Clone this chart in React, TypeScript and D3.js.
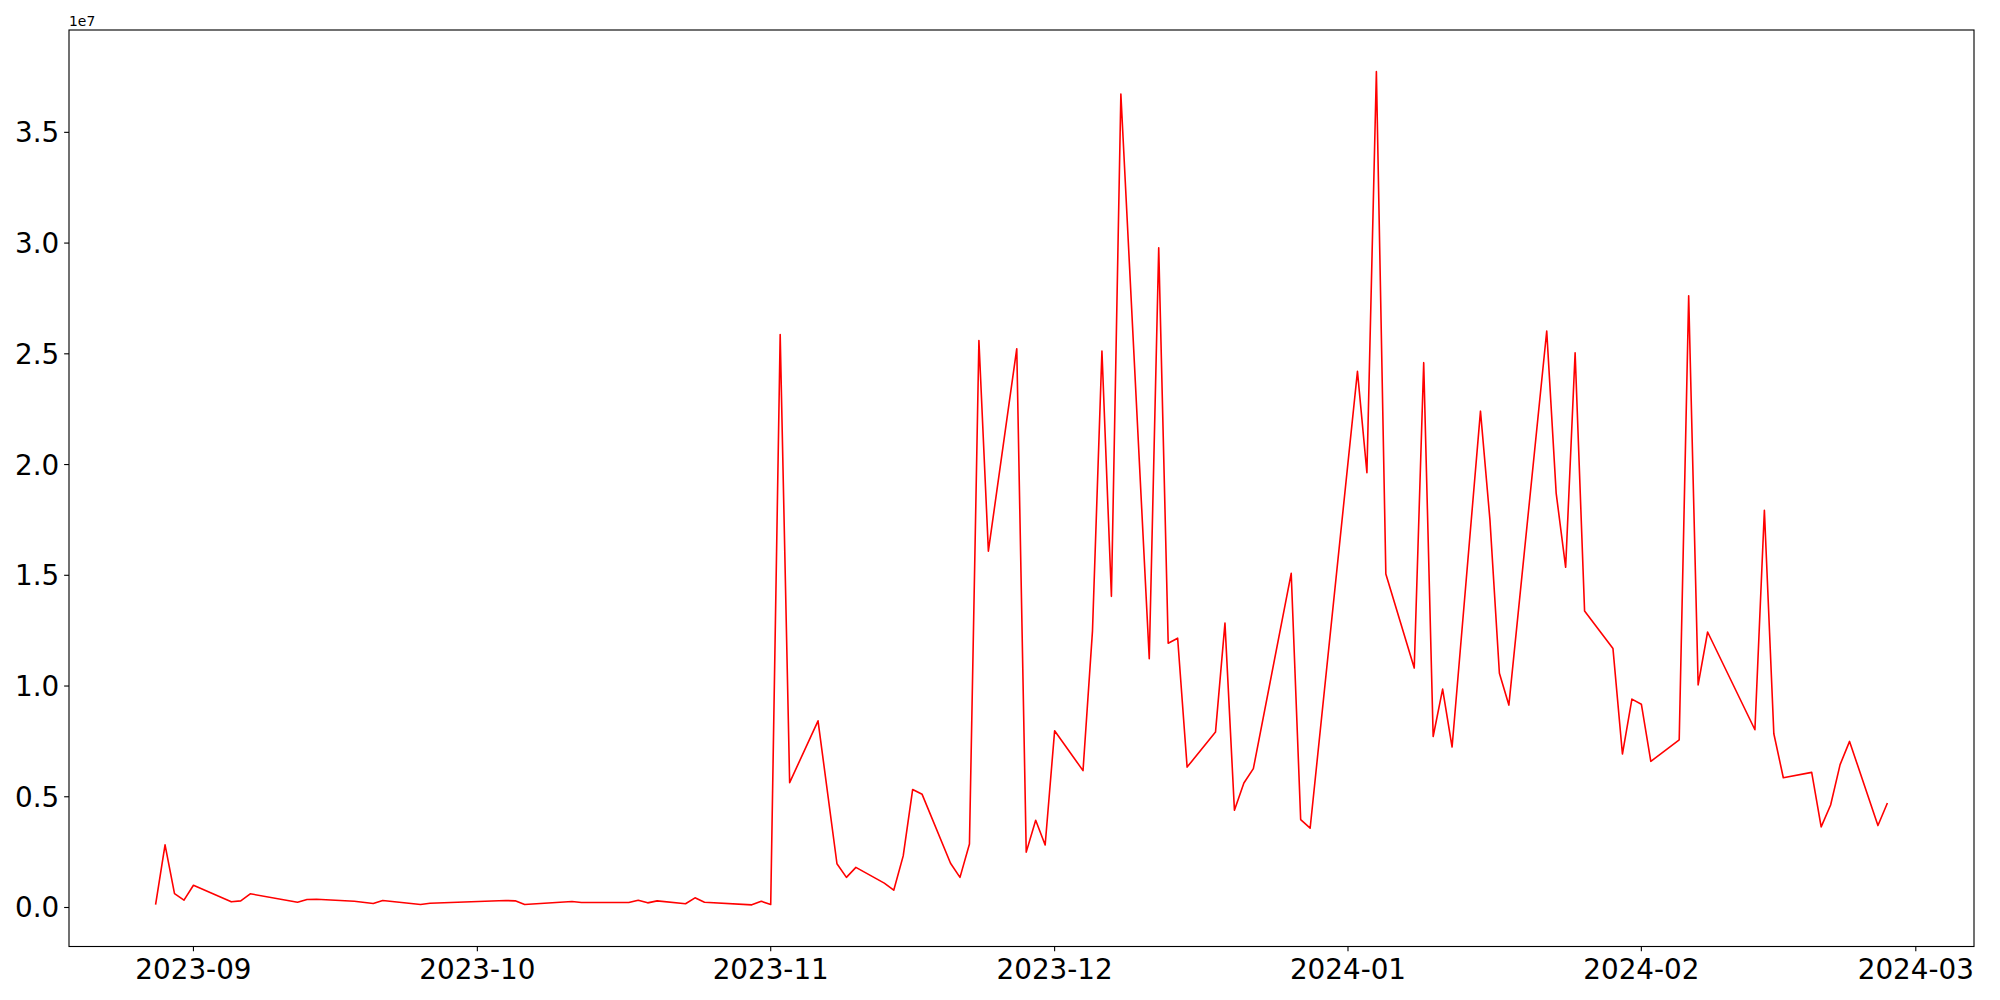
import React from "react";
import * as d3 from "d3";

const dates: string[] = [
  "2023-08-28","2023-08-29","2023-08-30","2023-08-31","2023-09-01","2023-09-05","2023-09-06","2023-09-07",
  "2023-09-12","2023-09-13","2023-09-14","2023-09-18","2023-09-20","2023-09-21","2023-09-25","2023-09-26",
  "2023-10-04","2023-10-05","2023-10-06","2023-10-11","2023-10-12","2023-10-17","2023-10-18","2023-10-19",
  "2023-10-20","2023-10-23","2023-10-24","2023-10-25","2023-10-30","2023-10-31","2023-11-01","2023-11-02",
  "2023-11-03","2023-11-06","2023-11-08","2023-11-09","2023-11-10","2023-11-13","2023-11-14","2023-11-15",
  "2023-11-16","2023-11-17","2023-11-20","2023-11-21","2023-11-22","2023-11-23","2023-11-24","2023-11-27",
  "2023-11-28","2023-11-29","2023-11-30","2023-12-01","2023-12-04","2023-12-05","2023-12-06","2023-12-07",
  "2023-12-08","2023-12-11","2023-12-12","2023-12-13","2023-12-14","2023-12-15","2023-12-18","2023-12-19",
  "2023-12-20","2023-12-21","2023-12-22","2023-12-26","2023-12-27","2023-12-28","2024-01-02","2024-01-03",
  "2024-01-04","2024-01-05","2024-01-08","2024-01-09","2024-01-10","2024-01-11","2024-01-12","2024-01-15",
  "2024-01-16","2024-01-17","2024-01-18","2024-01-22","2024-01-23","2024-01-24","2024-01-25","2024-01-26",
  "2024-01-29","2024-01-30","2024-01-31","2024-02-01","2024-02-02","2024-02-05","2024-02-06","2024-02-07",
  "2024-02-08","2024-02-13","2024-02-14","2024-02-15","2024-02-16","2024-02-19","2024-02-20","2024-02-21",
  "2024-02-22","2024-02-23","2024-02-26","2024-02-27",
];

const values: number[] = [
  135000, 2830000, 630000, 330000, 1006000, 256000, 300000, 620000,
  240000, 360000, 375000, 280000, 180000, 316000, 135000, 190000,
  316000, 300000, 135000, 270000, 225000, 225000, 330000, 210000,
  300000, 167000, 437000, 240000, 120000, 280000, 140000, 25870000,
  5636000, 8430000, 1975000, 1360000, 1810000, 1100000, 780000, 2330000,
  5330000, 5110000, 1997000, 1360000, 2870000, 25600000, 16090000, 25230000,
  2500000, 3940000, 2820000, 7980000, 6180000, 12480000, 25130000, 14050000,
  36730000, 11230000, 29790000, 11930000, 12160000, 6340000, 7920000, 12840000,
  4390000, 5620000, 6270000, 15090000, 3970000, 3580000, 24210000, 19630000,
  37740000, 15060000, 10810000, 24600000, 7720000, 9860000, 7245000, 22410000,
  17500000, 10580000, 9140000, 26030000, 18700000, 15360000, 25050000, 13390000,
  11690000, 6930000, 9410000, 9180000, 6600000, 7570000, 27620000, 10050000,
  12440000, 8025000, 17940000, 7845000, 5860000, 6100000, 3640000, 4630000,
  6450000, 7500000, 3700000, 4720000,
];

const yTickValues: number[] = [0, 5e6, 1e7, 1.5e7, 2e7, 2.5e7, 3e7, 3.5e7];
const offsetLabel = "1e7";

const W = 2000;
const H = 1000;
const left = 69;
const right = 1974;
const top = 30;
const bottom = 946.5;
const FONT = "DejaVu Sans, sans-serif";

export default function App() {
  const parse = d3.utcParse("%Y-%m-%d");
  const pts = dates.map((d, i) => ({ t: parse(d) as Date, v: values[i] }));

  const [t0, t1] = d3.extent(pts, (p) => p.t.getTime()) as [number, number];
  const tPad = (t1 - t0) * 0.05;
  const x = d3.scaleUtc().domain([new Date(t0 - tPad), new Date(t1 + tPad)]).range([left, right]);

  const [v0, v1] = d3.extent(values) as [number, number];
  const vPad = (v1 - v0) * 0.05;
  const y = d3.scaleLinear().domain([v0 - vPad, v1 + vPad]).range([bottom, top]);

  const line = d3
    .line<{ t: Date; v: number }>()
    .x((p) => x(p.t))
    .y((p) => y(p.v));

  const xTicks = d3.utcMonth.range(d3.utcMonth.ceil(x.domain()[0]), x.domain()[1]);
  const fmt = d3.utcFormat("%Y-%m");
  const tickLen = 4.86;
  const sw = 1.11;

  return (
    <svg
      width={W}
      height={H}
      style={{ position: "absolute", left: 0, top: 0, background: "#fff" }}
      fontFamily={FONT}
    >
      <rect x={0} y={0} width={W} height={H} fill="#fff" />
      <path d={line(pts) || ""} fill="none" stroke="#ff0000" strokeWidth={1.6} strokeLinejoin="round" />
      <rect x={left} y={top} width={right - left} height={bottom - top} fill="none" stroke="#000" strokeWidth={sw} />
      {xTicks.map((t, i) => (
        <g key={"x" + i}>
          <line x1={x(t)} x2={x(t)} y1={bottom} y2={bottom + tickLen} stroke="#000" strokeWidth={sw} />
          <text x={x(t)} y={979} fontSize={27.8} textAnchor="middle" fill="#000">
            {fmt(t)}
          </text>
        </g>
      ))}
      {yTickValues.map((v, i) => (
        <g key={"y" + i}>
          <line x1={left - tickLen} x2={left} y1={y(v)} y2={y(v)} stroke="#000" strokeWidth={sw} />
          <text x={left - tickLen - 4.86} y={y(v) + 10} fontSize={27.8} textAnchor="end" fill="#000">
            {(v / 1e7).toFixed(1)}
          </text>
        </g>
      ))}
      <text x={left} y={26} fontSize={13.9} fill="#000">
        {offsetLabel}
      </text>
    </svg>
  );
}
